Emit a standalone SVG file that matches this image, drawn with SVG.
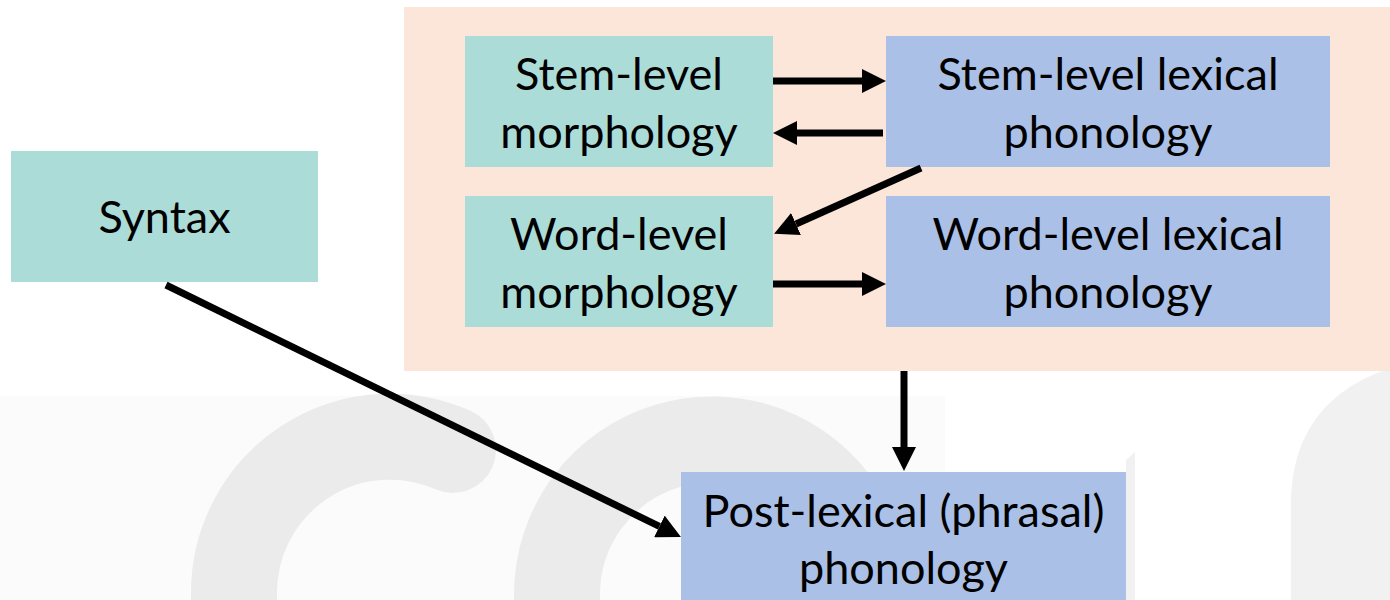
<svg xmlns="http://www.w3.org/2000/svg" width="1390" height="600" viewBox="0 0 1390 600">
<style>
.teal{fill:#acdcd7}
.blue{fill:#abc0e6}
.lbl{font-family:Lato,"Liberation Sans",sans-serif;font-size:45px;fill:#000;text-anchor:middle}
.wm{fill:none;stroke:#ebebeb;stroke-width:86}
.con{stroke:#000;stroke-width:7;fill:none;marker-end:url(#ah)}
</style>
<defs>
<marker id="ah" markerUnits="userSpaceOnUse" markerWidth="24" markerHeight="24" refX="0" refY="12" orient="auto" viewBox="0 0 24 24">
<path d="M0,0 L24,12 L0,24 Z" fill="#000"/>
</marker>
</defs>
<rect width="1390" height="600" fill="#fff"/>
<g id="watermark">
<rect x="0" y="396" width="945" height="204" fill="#fbfbfb"/>
<path class="wm" d="M453,450 A156,156 0 0 0 234,595 L234,640" stroke-linecap="round"/>
<path class="wm" d="M842,510 A155,155 0 0 0 557,595 L557,640"/>
<polygon points="1126,460 1135,452 1135,600 1126,600" fill="#f1f1f1"/>
<path d="M1291,600 L1291,505 C1291,440 1320,392 1390,368 L1390,600 Z" fill="#f1f1f1"/>
</g>
<g id="lexicon">
<rect x="404" y="7" width="986" height="364" fill="#fbe6d9"/>
</g>
<g id="stem-morph">
<rect class="teal" x="465" y="36" width="308" height="131"/>
<text class="lbl" x="619" y="90">Stem-level</text>
<text class="lbl" x="619" y="148">morphology</text>
</g>
<g id="stem-phon">
<rect class="blue" x="886" y="36" width="444" height="131"/>
<text class="lbl" x="1108" y="90">Stem-level lexical</text>
<text class="lbl" x="1108" y="148">phonology</text>
</g>
<g id="word-morph">
<rect class="teal" x="465" y="196" width="308" height="131"/>
<text class="lbl" x="619" y="250">Word-level</text>
<text class="lbl" x="619" y="308">morphology</text>
</g>
<g id="word-phon">
<rect class="blue" x="886" y="196" width="444" height="131"/>
<text class="lbl" x="1108" y="250">Word-level lexical</text>
<text class="lbl" x="1108" y="308">phonology</text>
</g>
<g id="syntax">
<rect class="teal" x="11" y="151" width="307" height="131"/>
<text class="lbl" x="164.5" y="233">Syntax</text>
</g>
<g id="post-lexical">
<rect class="blue" x="681" y="472" width="445" height="140"/>
<text class="lbl" x="903.5" y="527">Post-lexical (phrasal)</text>
<text class="lbl" x="903.5" y="584">phonology</text>
</g>
<g id="connectors">
<line class="con" x1="773" y1="81" x2="862" y2="81"/>
<line class="con" x1="883" y1="133" x2="797" y2="133"/>
<line class="con" x1="921" y1="168" x2="796" y2="224"/>
<line class="con" x1="773" y1="284" x2="862" y2="284"/>
<line class="con" x1="904" y1="371" x2="904" y2="447"/>
<line class="con" x1="166" y1="285" x2="659.4" y2="526.4"/>
</g>
</svg>
